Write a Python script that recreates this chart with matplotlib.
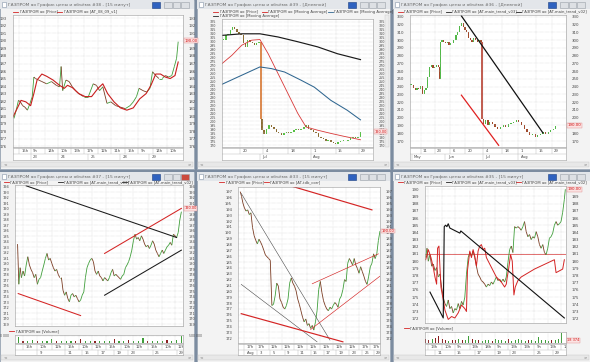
import numpy as np
import matplotlib.pyplot as plt
import matplotlib.transforms as mtransforms
from matplotlib.patches import Rectangle
from matplotlib.collections import LineCollection

plt.rcParams['font.family'] = ['DejaVu Sans']

# ---------------- data (x = bar position, y = price) ----------------
# top-left: 15 min, price + AT_08_09_v1
tl_x = [38, 45, 52, 58, 65, 72, 80, 88, 95, 100, 105, 115, 125, 140, 155, 170, 180, 185, 190, 200,
        210, 220, 230, 240, 255, 270, 285, 295, 305, 315, 328, 340, 355, 370, 385, 400, 410, 420, 428, 440,
        452, 462, 470, 480, 490, 500, 510, 520, 530, 538, 545, 550]
tl_price = [179.7, 180.8, 182.1, 181.9, 181.4, 181.2, 180.8, 181.7, 182.6, 185.2, 185.0, 184.8, 184.6, 184.3,
            184.6, 184.1, 183.9, 186.6, 183.4, 184.8, 184.6, 183.9, 183.4, 183.0, 182.6, 182.6, 184.3, 184.1,
            183.4, 183.9, 181.7, 181.9, 181.4, 181.2, 181.0, 181.4, 181.9, 182.6, 183.7, 183.4, 183.2, 183.7,
            185.9, 185.4, 185.0, 185.0, 185.4, 185.2, 185.4, 186.6, 187.7, 189.9]
tl_ma_x = [35, 50, 60, 75, 90, 100, 110, 125, 140, 160, 180, 195, 205, 220, 240, 260, 280, 300, 315, 330,
           350, 370, 390, 410, 430, 450, 465, 480, 495, 510, 525, 540, 550]
tl_ma = [179.9, 181.2, 182.1, 181.9, 181.4, 183.0, 184.8, 185.6, 185.3, 184.8, 184.1, 183.7, 184.1, 183.8,
         183.0, 182.6, 182.6, 183.7, 184.3, 183.0, 181.9, 181.1, 180.8, 181.1, 182.3, 183.0, 184.1, 185.6,
         185.6, 185.2, 185.0, 185.4, 187.2]
tl_r1_pos = [55, 90, 135, 175, 215, 255, 300, 340, 385, 425, 470, 515]
tl_r1_lab = ["15h", "9h", "14h", "10h", "13h", "17h", "12h", "11h", "15h", "9h", "14h", "10h"]
tl_r2_pos = [90, 175, 270, 370, 460]
tl_r2_lab = ["23", "24", "25", "28", "29"]

# top-middle: daily, candles + three moving averages
tm_x = [95, 102, 108, 115, 122, 128, 135, 142, 148, 155, 162, 168, 175, 182, 188, 195, 202, 208, 212, 218,
        225, 232, 240, 248, 255, 262, 270, 278, 285, 292, 300, 308, 315, 322, 330, 338, 345, 352, 360, 368,
        375, 382, 390, 398, 405, 412, 420, 428, 435, 442, 450, 458, 465, 472, 480, 488, 495, 502, 510]
tm_close = [302, 308, 310, 314.5, 319, 316.6, 312, 310, 308, 298, 293.6, 302, 300, 298, 295.7, 298, 300, 203,
            189, 184.6, 191, 195, 193, 191, 187, 185, 182.5, 185, 187, 185, 187, 189, 191, 189, 191, 193, 195,
            191, 189, 187, 185, 180.5, 179.6, 178.4, 176, 177, 174, 173, 172, 174, 175.4, 176, 175.4, 177,
            179.6, 180.5, 179.6, 181, 187]
tm_red_x = [90, 120, 150, 180, 205, 230, 260, 290, 320, 345, 380, 420, 460, 510]
tm_red = [272.6, 283, 295.7, 302, 302.8, 285, 260, 235, 210, 193, 189, 185, 181.3, 177]
tm_blue_x = [90, 150, 205, 240, 280, 330, 370, 420, 470, 510]
tm_blue = [246.6, 258, 268.4, 266.3, 262, 251.7, 243, 226.5, 214, 202]
tm_black_x = [90, 150, 205, 260, 320, 380, 440, 510]
tm_black = [308, 310, 310, 306, 300, 293.6, 285, 277.6]
tm_r1_pos = [145, 215, 290, 360, 435, 505]
tm_r1_lab = ["20", "4", "18", "1", "15", "29"]
tm_r2_pos = [205, 360]
tm_r2_lab = ["Jul", "Aug"]

# top-right: daily, candles + trend lines
tr_x = [108, 115, 120, 125, 130, 135, 140, 145, 150, 155, 160, 165, 170, 175, 180, 185, 188, 190, 195, 200,
        205, 210, 215, 220, 228, 235, 240, 245, 250, 255, 260, 265, 270, 275, 280, 285, 290, 295, 300, 305,
        308, 312, 318, 325, 330, 338, 345, 352, 360, 368, 375, 382, 390, 398, 405, 412, 420, 428, 435, 442,
        450, 458, 465, 472, 480, 488, 495, 502, 510, 515]
tr_close = [241.8, 238.8, 236.3, 238.8, 237.5, 240.6, 231, 235.4, 238.8, 252.6, 265.5, 267.7, 263.4, 265.5,
            267.7, 265.5, 250, 297.8, 300, 297.8, 295.6, 297.8, 293.5, 295.6, 300, 306.4, 310.7, 318, 321.4,
            317.1, 312.8, 310.7, 302, 300, 297.8, 302, 300, 297.8, 300, 297.8, 198.9, 192.4, 196.7, 190.3,
            194.6, 192.4, 188.1, 186, 188.1, 190.3, 188.1, 192.4, 193.3, 194.6, 196.7, 194.6, 190.3, 186,
            181.6, 177.3, 179.5, 175.2, 177.3, 179.5, 181.6, 179.5, 181.6, 183.8, 186, 189]
tr_black_x = [250, 480]
tr_black = [331, 180.4]
tr_red_x = [250, 355]
tr_red = [229, 164.5]
tr_r1_pos = [135, 175, 218, 260, 312, 365, 410, 460, 505]
tr_r1_lab = ["11", "23", "6", "20", "4", "18", "1", "15", "29"]
tr_r2_pos = [110, 205, 310, 410]
tr_r2_lab = ["May", "Jun", "Jul", "Aug"]

# bottom-left: 15 min, channels
bl_x = [58, 62, 66] + list(range(70, 571, 5))
bl_price = [183.6, 176.3, 179.3, 177.5, 178.7, 177.8, 179.8, 181.3, 179.8, 179,
            178.4, 177.5, 178.1, 176.3, 177.2, 177.5, 178.7, 179.8, 181, 181.9,
            180.7, 181, 180.1, 179.3, 178.7, 179, 178.1, 177.5, 177.5, 175.2,
            174.3, 174.9, 173.7, 173.1, 174.3, 174.6, 174, 174.3, 173.7, 173.1,
            173.4, 174.3, 174.9, 177.5, 179.3, 180.1, 180.7, 181, 180.4, 178.7,
            178.1, 178.7, 177.8, 177.5, 176.9, 177.5, 177.2, 176.9, 177.5, 178.4,
            179, 177.8, 178.1, 177.8, 177.5, 177.2, 177.8, 178.1, 179.3, 179.8,
            180.4, 181.3, 182.5, 184.2, 185.4, 184.5, 184.8, 184.2, 185.1, 184.5,
            183.6, 183.1, 183.4, 182.8, 183.4, 184.2, 183.6, 182.5, 181.9, 181.3,
            181.9, 182.5, 181.9, 182.5, 183.1, 183.4, 183.9, 183.4, 185.4, 185.1,
            184.8, 185.7, 188, 189.5]
bl_black1_x, bl_black1 = [85, 555], [194.2, 184.8]
bl_red1_x, bl_red1 = [330, 570], [181.9, 190.1]
bl_black2_x, bl_black2 = [330, 570], [174.3, 182.5]
bl_red2_x, bl_red2 = [60, 255], [174.6, 170.6]
bl_vol_x = list(range(60, 571, 15))
bl_vol = [420, 150, 120, 180, 140, 160, 130, 300, 120, 140, 110, 160, 130, 280, 150, 120, 140, 130,
          170, 150, 260, 140, 120, 180, 150, 170, 320, 140, 130, 160, 150, 180, 140, 200, 480]
bl_vol_col = "grggrgggrgggrrggrgggrggrgggrgggrggg"
bl_r1_pos = [75, 120, 165, 205, 250, 290, 335, 380, 420, 465, 510, 550]
bl_r1_lab = ["15h", "10h", "12h", "15h", "10h", "12h", "15h", "10h", "12h", "15h", "10h", "12h"]
bl_r2_pos = [118, 205, 260, 310, 360, 403, 480, 555]
bl_r2_lab = ["9", "11", "15", "17", "19", "23", "25", "29"]

# bottom-middle: 15 min, AT-tdb_corr lines
bm_x = [142, 146] + list(range(150, 576, 5))
bm_price = [197, 196.2, 195.1, 194.2, 193.7, 193.9, 193.1, 193.4, 190.9, 189.5,
            188.7, 188.1, 188.9, 188.4, 187.8, 187, 186.2, 185.9, 185.6, 185.3,
            177.6, 177.8, 179.2, 181.4, 180.9, 178.7, 178.1, 177.3, 177, 177.6,
            178.7, 181.4, 182.3, 181.4, 180.9, 180.1, 178.7, 177.8, 176.7, 175.6,
            174.8, 175.3, 174.2, 174.5, 173.7, 174.2, 173.4, 174.8, 176.7, 180.3,
            181.7, 179.8, 178.4, 177.6, 177, 176.7, 177.3, 177, 177.6, 178.1,
            177.8, 177.3, 178.7, 179.2, 180.3, 182, 181.7, 184.8, 185.6, 185.1,
            184.5, 185.6, 184.5, 183.9, 183.1, 184.2, 183.4, 182.6, 181.7, 181.2,
            182.6, 184.2, 184.8, 186.4, 185.6, 186.4, 188.7, 190.3]
bm_gray1_x, bm_gray1 = [145, 420], [196.7, 171.7]
bm_gray2_x, bm_gray2 = [145, 380], [181.2, 171.4]
bm_red1_x, bm_red1 = [145, 460], [176.2, 171.4]
bm_red2_x, bm_red2 = [285, 550], [198.2, 193.9]
bm_red3_x, bm_red3 = [365, 570], [181.3, 186.4]
bm_red4_x, bm_red4 = [360, 575], [173.5, 182.6]
bm_r1_pos = [155, 190, 230, 270, 310, 350, 390, 430, 470, 510, 545]
bm_r1_lab = ["17h", "17h", "12h", "12h", "12h", "12h", "12h", "12h", "12h", "17h", "17h"]
bm_r2_pos = [155, 195, 235, 280, 320, 360, 400, 440, 480, 520, 555]
bm_r2_lab = ["Aug", "3", "5", "9", "11", "15", "17", "19", "23", "25", "29"]

# bottom-right: 15 min, main trend v02 / v03
br_x = [112, 116] + list(range(120, 531, 5)) + [533]
br_price = [180.5, 181.8, 180, 180.9, 179.3, 179.6, 178.7, 179.1, 177.8, 178.2,
            176.4, 175, 174.1, 173.7, 174.6, 173.4, 173.7, 172.8, 173.4, 173.2,
            174.1, 173.4, 174.4, 173.9, 175, 178.2, 180.5, 181.2, 180.7, 181.4,
            180.5, 179.3, 178.2, 177.8, 177.3, 177.1, 176.8, 176.4, 176.8, 176.6,
            177.1, 176.8, 177.3, 177.8, 177.3, 177.5, 177.1, 177.5, 177.1, 177.8,
            179.8, 181.6, 182.1, 181.2, 184.8, 184.6, 184.8, 184.6, 184.3, 184.8,
            185.5, 184.1, 183.4, 183.7, 183, 183.4, 183.2, 184.1, 183.4, 182.3,
            181.8, 182.3, 181.2, 180.9, 181.8, 183.2, 183.4, 183.9, 185, 185.5,
            185, 185.2, 185.5, 186.8, 188.6, 190]
br_red_x = [112, 120, 128, 135, 140, 145, 148, 152, 158, 165, 170, 180, 190, 200, 210, 220, 230, 235, 238,
            245, 250, 255, 260, 265, 270, 275, 280, 285, 290, 295, 305, 315, 325, 340, 350, 355, 358, 362,
            368, 373, 378, 382, 390, 400, 440, 500, 505, 525, 530]
br_red = [180.2, 181.6, 180.5, 179.1, 177.8, 176.8, 181.8, 182.1, 176.4, 174.6, 173.2, 171.9, 172.3, 172.1,
          172.8, 173.9, 173.4, 173, 178.7, 181.4, 180.5, 181.6, 180.7, 179.3, 181.4, 182.1, 182.3, 181.6,
          181.8, 180.5, 179.6, 178.7, 177.8, 177.1, 176.4, 176.8, 177.8, 178.9, 180.9, 180, 175.3, 176.4,
          177.3, 177.8, 178.9, 180.2, 178.4, 178.9, 180.2]
br_black_x = [125, 165, 168, 172, 176, 180, 185, 215, 218, 530]
br_black = [175.7, 172.1, 184.8, 185.0, 184.8, 185.2, 184.6, 183.9, 184.2, 172.1]
br_level = 181
br_vol_x = list(range(112, 531, 10))
br_vol = [300, 200, 250, 350, 500, 300, 200, 150, 180, 200, 250, 200, 180, 450, 300, 200, 180, 150, 200, 180,
          160, 300, 200, 180, 160, 250, 150, 200, 300, 180, 150, 200, 180, 160, 400, 200, 180, 150, 200, 180,
          250, 700]
br_vol_col = "rrgrrrrgrrgrggrgrgggrggggrgggggrggggggrggg"
br_r1_pos = [120, 162, 200, 245, 283, 320, 360, 400, 440, 480, 520]
br_r1_lab = ["13h", "10h", "9h", "13h", "18h", "9h", "13h", "13h", "9h", "13h", "10h"]
br_r2_pos = [140, 200, 260, 320, 365, 440, 495]
br_r2_lab = ["11", "15", "17", "19", "23", "25", "29"]

# ---------------- colours ----------------
UP = '#3f9e3a'
DOWN = '#7a3b22'
RED = '#d42424'
FRAME = '#f3f3f3'
TITLEBAR = '#e3e6ea'
TXT = '#454545'
NAME = 'ГАЗПРОМ ао'

W, H = 590, 362
fig = plt.figure(figsize=(W / 100, H / 100), dpi=100, facecolor='#7c8ca0')
bg = fig.add_axes([0, 0, 1, 1])
bg.set_xlim(0, W)
bg.set_ylim(H, 0)
bg.set_autoscale_on(False)
bg.axis('off')


def pax(x0, y0, x1, y1):
    return fig.add_axes([x0 / W, 1 - y1 / H, (x1 - x0) / W, (y1 - y0) / H])


def window(x0, y0, x1, y1, title, red_close=False):
    bg.add_patch(Rectangle((x0, y0), x1 - x0, y1 - y0, fc=FRAME, ec='#9aa6b4', lw=0.5))
    bg.add_patch(Rectangle((x0, y0), x1 - x0, 9, fc=TITLEBAR, ec='none'))
    bg.add_patch(Rectangle((x0 + 2, y0 + 2), 4, 4.5, fc='white', ec='#8494a8', lw=0.4))
    bg.text(x0 + 8, y0 + 4.8, title, fontsize=3.2, color='#6a6a6a', va='center')
    bg.add_patch(Rectangle((x1 - 42, y0 + 1.5), 8, 6, fc='#2f62c0', ec='#1c3f80', lw=0.4))
    cols = ['#dde0e4', '#dde0e4', '#cc4a3c' if red_close else '#dde0e4']
    for i, c in enumerate(cols):
        bg.add_patch(Rectangle((x1 - 30 + i * 8.7, y0 + 1.5), 7.6, 6, fc=c, ec='#9aa0a8', lw=0.4))
    # bottom scrollbar
    bg.add_patch(Rectangle((x0 + 1, y1 - 7), x1 - x0 - 2, 5, fc='#e8e8e8', ec='#c4c4c4', lw=0.3))
    bg.text(x0 + 3, y1 - 4.5, '<', fontsize=3, color='#606060', va='center')
    bg.text(x1 - 3, y1 - 4.5, '>', fontsize=3, color='#606060', va='center', ha='right')


def legend_row(xs, y, items, fs=2.7):
    for x, (label, color) in zip(xs, items):
        bg.plot([x, x + 5], [y, y], color=color, lw=0.6)
        bg.text(x + 6.5, y, label, fontsize=fs, color=TXT, va='center', ha='left')


def price_axes(box, xlim, ylim, yticks, xgrid, fs=2.8):
    ax = pax(*box)
    ax.set_xlim(*xlim)
    ax.set_ylim(*ylim)
    ax.set_facecolor('white')
    ax.set_yticks(yticks)
    ax.set_yticklabels([str(v) for v in yticks])
    ax.set_xticks(xgrid)
    ax.tick_params(axis='y', left=False, right=False, labelleft=True, labelright=True,
                   labelsize=fs, pad=0.8, labelcolor=TXT)
    ax.tick_params(axis='x', bottom=False, labelbottom=False)
    ax.grid(True, color='#c6c6c6', lw=0.35, ls=(0, (1, 1.5)))
    for s in ax.spines.values():
        s.set_color('#9a9a9a')
        s.set_linewidth(0.4)
    return ax


def date_strip(box, xlim, p1, l1, p2, l2):
    ax = pax(*box)
    ax.set_xlim(*xlim)
    ax.set_ylim(2, 0)
    ax.set_xticks([])
    ax.set_yticks([])
    ax.set_facecolor('white')
    ax.axhline(1, color='#b4b4b4', lw=0.3)
    ax.vlines(p1, 0, 1, color='#b4b4b4', lw=0.3)
    ax.vlines(p2, 1, 2, color='#b4b4b4', lw=0.3)
    off = (xlim[1] - xlim[0]) * 0.015
    for p, s in zip(p1, l1):
        ax.text(p + off, 0.55, s, fontsize=2.7, va='center', ha='left', color=TXT, clip_on=True)
    for p, s in zip(p2, l2):
        ax.text(p + off, 1.55, s, fontsize=2.7, va='center', ha='left', color=TXT, clip_on=True)
    for s in ax.spines.values():
        s.set_color('#a4a4a4')
        s.set_linewidth(0.4)
    return ax


def price_line(ax, x, y, lw=0.6):
    pts = np.column_stack([x, y])
    segs = np.stack([pts[:-1], pts[1:]], axis=1)
    cols = [UP if b >= a else DOWN for a, b in zip(y[:-1], y[1:])]
    ax.add_collection(LineCollection(segs, colors=cols, linewidths=lw))


def candles(ax, x, close, width, up, down, drop):
    close = np.asarray(close, float)
    opens = np.r_[close[0], close[:-1]]
    body = close - opens
    lo, hi = ax.get_ylim()
    small = abs(hi - lo) * 0.006
    h = np.where(np.abs(body) < small, np.where(body < 0, -small, small), body)
    big = body < -40
    cols = [up if b >= 0 else down for b in body]
    xs = np.asarray(x)
    ax.bar(xs[~big], h[~big], bottom=opens[~big], width=width,
           color=[c for c, b in zip(cols, big) if not b], lw=0)
    ax.vlines(xs[big], close[big], opens[big], color=drop, lw=1.1)


def price_tag(ax, value, text='190.00', fs=2.8):
    tr = mtransforms.blended_transform_factory(ax.transAxes, ax.transData)
    ax.text(1.01, value, text, transform=tr, fontsize=fs, color='#d01010', va='center', ha='left',
            bbox=dict(boxstyle='square,pad=0.12', fc='#fbe3e3', ec='#e08a8a', lw=0.3),
            clip_on=False, zorder=6)


# ---------------- windows ----------------
window(0, 0, 194, 169, NAME + ' График цены и объёма #38 - [15 минут]')
window(197, 0, 390, 169, NAME + ' График цены и объёма #39 - [Дневной]')
window(393, 0, 590, 169, NAME + ' График цены и объёма #36 - [Дневной]')
window(0, 172, 194, 362, NAME + ' График цены и объёма #37 - [15 минут]', red_close=True)
window(197, 172, 390, 362, NAME + ' График цены и объёма #33 - [15 минут]')
window(393, 172, 590, 362, NAME + ' График цены и объёма #35 - [15 минут]')

# vertical scrollbar on the right of the top-middle window
bg.add_patch(Rectangle((384.5, 15), 4.5, 132, fc='#ececec', ec='#c8c8c8', lw=0.3))

# ---- top-left
legend_row([13, 57], 11.5, [(NAME + ' [Price]', RED), (NAME + ' [AT_08_09_v1]', RED)])
ax = price_axes((13, 15, 183, 147), (35, 565), (175.9, 193.45), list(range(176, 194)), tl_r1_pos, fs=2.7)
price_line(ax, tl_x, tl_price)
ax.plot(tl_ma_x, tl_ma, color='#c81e1e', lw=0.8)
price_tag(ax, 190, fs=2.7)
date_strip((13, 148, 183, 160), (35, 565), tl_r1_pos, tl_r1_lab, tl_r2_pos, tl_r2_lab)

# ---- top-middle
legend_row([213, 262, 328], 11.5, [(NAME + ' [Price]', RED), (NAME + ' [Moving Average]', RED),
                                   (NAME + ' [Moving Average]', '#2f6690')])
legend_row([213], 16, [(NAME + ' [Moving Average]', '#222222')])
ax = price_axes((222, 18.5, 373, 147), (90, 548), (167.9, 329.2), list(range(170, 326, 5)),
                tm_r1_pos, fs=2.4)
candles(ax, tm_x, tm_close, 4.5, '#55c043', '#8a6a30', '#d2691e')
ax.plot(tm_red_x, tm_red, color='#d83838', lw=0.6)
ax.plot(tm_blue_x, tm_blue, color='#2f6690', lw=0.75)
ax.plot(tm_black_x, tm_black, color='#1a1a1a', lw=0.85)
price_tag(ax, tm_close[-1], fs=2.5)
date_strip((222, 148, 373, 160), (90, 548), tm_r1_pos, tm_r1_lab, tm_r2_pos, tm_r2_lab)

# ---- top-right
legend_row([398, 446, 516], 11.5, [(NAME + ' [Price]', RED), (NAME + ' [AT-main_trend_v03]', '#222222'),
                                   (NAME + ' [AT-main_trend_v02]', '#222222')])
ax = price_axes((410, 15, 566, 147), (105, 545), (162.3, 332.2), list(range(170, 331, 10)), tr_r1_pos)
candles(ax, tr_x, tr_close, 3.4, '#52b848', '#a04a2c', '#b03020')
ax.plot(tr_black_x, tr_black, color='#111111', lw=0.9)
ax.plot(tr_red_x, tr_red, color='#e02020', lw=0.9)
price_tag(ax, 190.3)
date_strip((410, 148, 566, 160), (105, 545), tr_r1_pos, tr_r1_lab, tr_r2_pos, tr_r2_lab)

# ---- bottom-left
legend_row([4, 58, 122], 182, [(NAME + ' [Price]', RED), (NAME + ' [AT-main_trend_v03]', '#222222'),
                               (NAME + ' [AT-main_trend_v02]', '#222222')])
ax = price_axes((15, 185, 183, 326), (50, 575), (168.7, 194.35), list(range(169, 195)), bl_r1_pos,
                fs=2.5)
price_line(ax, bl_x, bl_price)
ax.plot(bl_black1_x, bl_black1, color='#1a1a1a', lw=0.75)
ax.plot(bl_black2_x, bl_black2, color='#1a1a1a', lw=0.75)
ax.plot(bl_red1_x, bl_red1, color=RED, lw=0.75)
ax.plot(bl_red2_x, bl_red2, color=RED, lw=0.75)
price_tag(ax, 190.1, fs=2.5)
legend_row([9], 331, [(NAME + ' [Volume]', RED)])
vax = price_axes((15, 335, 183, 343), (50, 575), (0, 560), [500], bl_r1_pos, fs=2.2)
vax.set_yticklabels(['500 000'])
vax.bar(bl_vol_x, bl_vol, width=3.5, lw=0,
        color=[UP if c == 'g' else '#8b2020' for c in bl_vol_col])
date_strip((15, 344, 183, 355), (50, 575), bl_r1_pos, bl_r1_lab, bl_r2_pos, bl_r2_lab)

# ---- bottom-middle
legend_row([219, 264], 182, [(NAME + ' [Price]', RED), (NAME + ' [AT-tdb_corr]', RED)])
ax = price_axes((238, 187, 380, 343), (135, 575), (171.2, 197.8), list(range(172, 198)), bm_r1_pos,
                fs=2.6)
price_line(ax, bm_x, bm_price)
ax.plot(bm_gray1_x, bm_gray1, color='#4a4a4a', lw=0.4)
ax.plot(bm_gray2_x, bm_gray2, color='#4a4a4a', lw=0.4)
ax.plot(bm_red1_x, bm_red1, color=RED, lw=0.85)
ax.plot(bm_red2_x, bm_red2, color=RED, lw=0.85)
ax.plot(bm_red3_x, bm_red3, color=RED, lw=0.45)
ax.plot(bm_red4_x, bm_red4, color=RED, lw=0.45)
price_tag(ax, 190.3, fs=2.6)
date_strip((238, 344, 380, 355), (135, 575), bm_r1_pos, bm_r1_lab, bm_r2_pos, bm_r2_lab)

# ---- bottom-right
legend_row([398, 446, 516], 182, [(NAME + ' [Price]', RED), (NAME + ' [AT-main_trend_v03]', '#222222'),
                                  (NAME + ' [AT-main_trend_v02]', RED)])
ax = price_axes((425, 186, 566, 323), (110, 535), (171.4, 190.45), list(range(172, 191)), br_r1_pos)
ax.axhline(br_level, color=RED, lw=0.45)
price_line(ax, br_x, br_price)
ax.plot(br_red_x, br_red, color=RED, lw=0.7)
ax.plot(br_black_x, br_black, color='#111111', lw=0.8)
price_tag(ax, 190)
legend_row([404], 328, [(NAME + ' [Volume]', RED)])
vax = price_axes((425, 332, 566, 343), (110, 535), (0, 760), [], br_r1_pos)
vax.bar(br_vol_x, br_vol, width=3.0, lw=0,
        color=[UP if c == 'g' else '#8b2020' for c in br_vol_col])
price_tag(vax, 200, text='18 374', fs=2.5)
date_strip((425, 344, 566, 355), (110, 535), br_r1_pos, br_r1_lab, br_r2_pos, br_r2_lab)

fig.savefig('out.png', dpi=100, facecolor=fig.get_facecolor())
